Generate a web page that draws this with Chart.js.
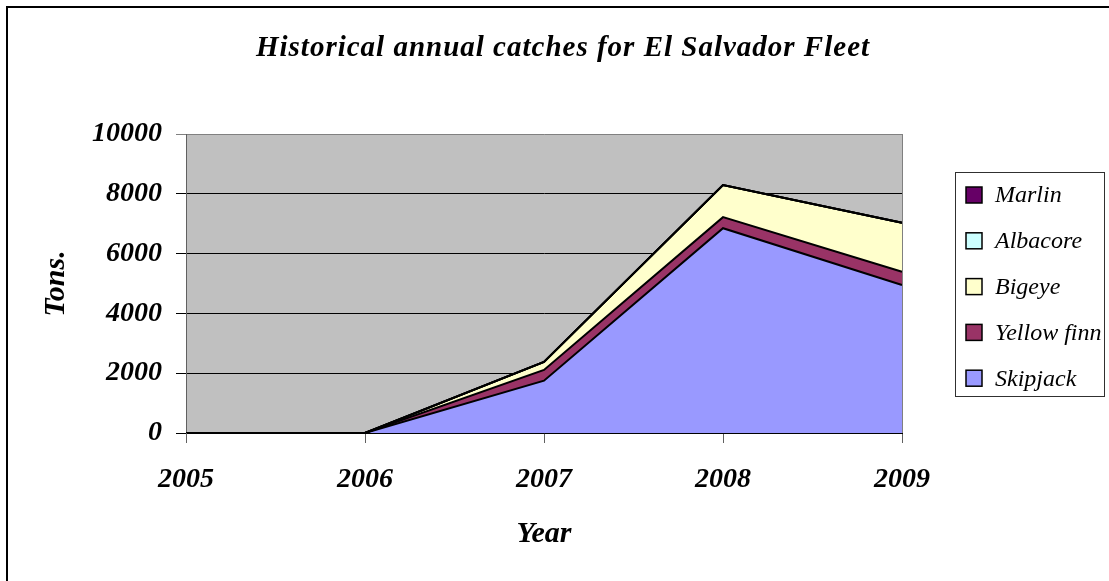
<!DOCTYPE html>
<html>
<head>
<meta charset="utf-8">
<script src="https://cdn.jsdelivr.net/npm/chart.js@4/dist/chart.umd.min.js"></script>
<style>
  html, body { margin: 0; padding: 0; background: #fff; }
  #wrap { width: 1109px; height: 581px; position: relative; }
</style>
</head>
<body>
<div id="wrap"><canvas id="c" width="1109" height="581"></canvas></div>
<script>
// Annual catches (tons) of the El Salvador fleet, by species
const years = ['2005', '2006', '2007', '2008', '2009'];
const skipjack   = [0, 0, 1750, 6850, 4950];
const yellowFinn = [0, 0, 360, 370, 445];
const bigeye     = [0, 0, 270, 1075, 1640];
const albacore   = [0, 0, 0, 0, 0];
const marlin     = [0, 0, 0, 0, 0];
const yTicks = [0, 2000, 4000, 6000, 8000, 10000];

const chartTitle = 'Historical annual catches for El Salvador Fleet';
const serif = "'Liberation Serif', 'Times New Roman', serif";

function series(label, data, color, fill) {
  return {
    label, data,
    backgroundColor: color,
    borderColor: '#000',
    borderWidth: 2,
    pointRadius: 0,
    pointHoverRadius: 0,
    tension: 0,
    fill
  };
}

// plot background, frame, title and legend box
const decor = {
  id: 'decor',
  beforeDraw(chart) {
    const { ctx, chartArea: a } = chart;
    ctx.save();
    ctx.fillStyle = '#fff';
    ctx.fillRect(0, 0, chart.width, chart.height);
    ctx.fillStyle = '#C0C0C0';
    ctx.fillRect(a.left, a.top, a.right - a.left, a.bottom - a.top);
    ctx.restore();
  },
  afterDraw(chart) {
    const { ctx, chartArea: a } = chart;
    ctx.save();
    // plot border on the right
    ctx.strokeStyle = '#808080';
    ctx.lineWidth = 1;
    ctx.beginPath();
    ctx.moveTo(a.right + 0.5, a.top);
    ctx.lineTo(a.right + 0.5, a.bottom);
    ctx.stroke();

    // outer frame (left and top edges)
    ctx.strokeStyle = '#000';
    ctx.lineWidth = 2;
    ctx.beginPath();
    ctx.moveTo(7, chart.height);
    ctx.lineTo(7, 7);
    ctx.lineTo(chart.width, 7);
    ctx.stroke();

    // title
    ctx.fillStyle = '#000';
    ctx.font = 'italic bold 29px ' + serif;
    ctx.letterSpacing = '1px';
    ctx.textAlign = 'center';
    ctx.textBaseline = 'alphabetic';
    ctx.fillText(chartTitle, 563, 56);
    ctx.letterSpacing = '0px';

    // legend
    const lx = 955, ly = 172, lw = 149, lh = 224;
    ctx.strokeStyle = '#303030';
    ctx.lineWidth = 1;
    ctx.strokeRect(lx + 0.5, ly + 0.5, lw, lh);
    const ds = chart.data.datasets.slice().reverse();
    ctx.font = 'italic 24px ' + serif;
    ctx.textAlign = 'left';
    ctx.textBaseline = 'middle';
    ds.forEach((d, i) => {
      const cy = 195 + i * 45.8;
      ctx.fillStyle = d.backgroundColor;
      ctx.fillRect(966, cy - 8, 16, 16);
      ctx.strokeStyle = '#000';
      ctx.lineWidth = 1.5;
      ctx.strokeRect(966, cy - 8, 16, 16);
      ctx.fillStyle = '#000';
      ctx.fillText(d.label, 995, cy + 1);
    });
    ctx.restore();
  }
};

const tickFont = { family: serif, size: 28, style: 'italic', weight: 'bold' };
const axisTitleFont = { family: serif, size: 30, style: 'italic', weight: 'bold' };

new Chart(document.getElementById('c'), {
  type: 'line',
  data: {
    labels: years,
    datasets: [
      series('Skipjack', skipjack, '#9999FF', 'origin'),
      series('Yellow finn', yellowFinn, '#993366', '-1'),
      series('Bigeye', bigeye, '#FFFFCC', '-1'),
      series('Albacore', albacore, '#CCFFFF', '-1'),
      series('Marlin', marlin, '#660066', '-1')
    ]
  },
  options: {
    responsive: false,
    devicePixelRatio: 1,
    animation: false,
    layout: { padding: { top: 134, right: 207, bottom: 0, left: 0 } },
    plugins: {
      legend: { display: false },
      title: { display: false },
      tooltip: { enabled: false },
      filler: { drawTime: 'beforeDatasetsDraw' }
    },
    scales: {
      x: {
        offset: false,
        afterFit(s) { s.height = 148; },
        grid: { drawOnChartArea: false, drawTicks: true, tickLength: 10, color: '#606060' },
        border: { display: true, color: '#000', width: 1 },
        ticks: {
          color: '#000',
          padding: 20,
          maxRotation: 0,
          font: tickFont
        },
        title: {
          display: true,
          text: 'Year',
          color: '#000',
          padding: { top: 0, bottom: 29 },
          font: axisTitleFont
        }
      },
      y: {
        stacked: true,
        min: 0,
        max: 10000,
        afterFit(s) { s.width = 186; },
        afterBuildTicks(s) { s.ticks = yTicks.map(v => ({ value: v })); },
        grid: {
          drawTicks: true,
          tickLength: 10,
          lineWidth: 1,
          color: ctx => (ctx.tick && ctx.tick.value === 10000) ? '#808080' : '#000'
        },
        border: { display: true, color: '#606060', width: 1 },
        ticks: {
          color: '#000',
          padding: 14,
          font: tickFont,
          callback: v => String(v)
        },
        title: {
          display: true,
          text: 'Tons.',
          color: '#000',
          padding: { top: 38, bottom: 0 },
          font: axisTitleFont
        }
      }
    }
  },
  plugins: [decor]
});
</script>
</body>
</html>
